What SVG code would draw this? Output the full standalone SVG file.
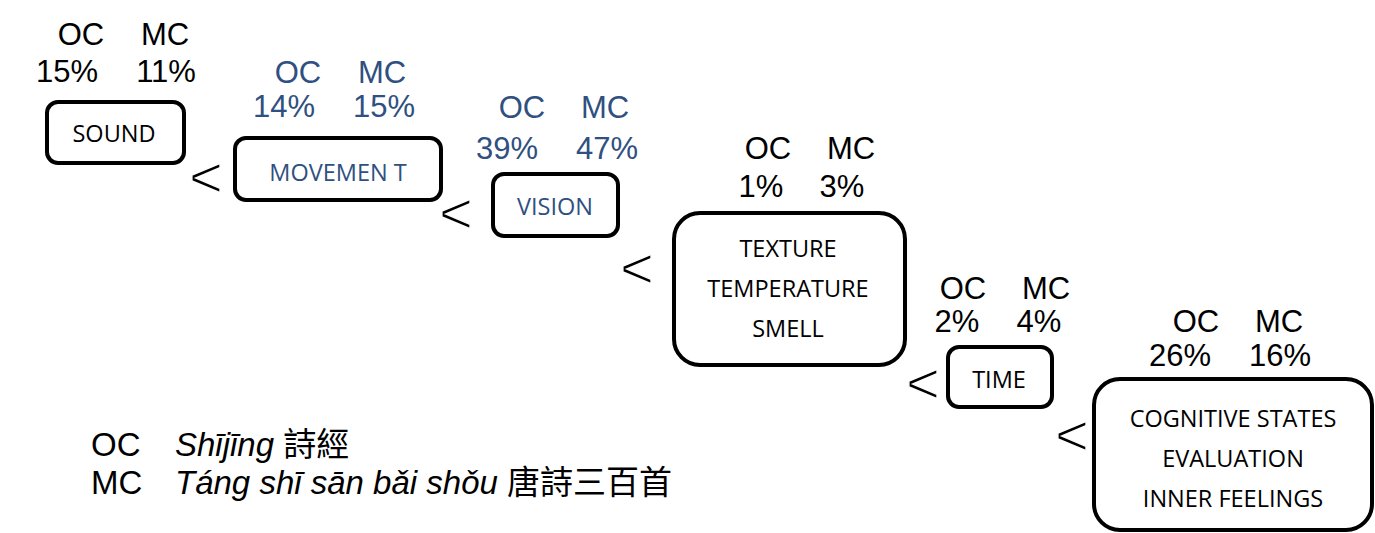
<svg xmlns="http://www.w3.org/2000/svg" width="1375" height="533" viewBox="0 0 1375 533">
<style>
.box{fill:#fff;stroke:#000;stroke-width:4}
.nt{font-family:"Open Sans","Noto Sans",sans-serif;font-size:23.5px;text-anchor:middle;fill:#000}
.lb{font-family:"Liberation Sans",Arial,sans-serif;font-size:31px;text-anchor:middle;fill:#000}
.nt.nb,.lb.nb{fill:#2F5080}
.lt{font-family:"Liberation Sans",Arial,sans-serif;font-size:58px;fill:#000;stroke:#fff;stroke-width:1.4}
.lg{font-family:"Liberation Sans",Arial,"Noto Sans CJK TC",sans-serif;font-size:33px;fill:#000}
</style>
<rect width="1375" height="533" fill="#fff"/>
<g id="connectors">
<text class="lt" x="189" y="197">&lt;</text>
<text class="lt" x="439" y="233">&lt;</text>
<text class="lt" x="620" y="288">&lt;</text>
<text class="lt" x="906" y="403">&lt;</text>
<text class="lt" x="1055" y="455">&lt;</text>
</g>
<g id="sound">
<text class="lb" x="81" y="45">OC</text><text class="lb" x="165" y="45">MC</text>
<text class="lb" x="67" y="82">15%</text><text class="lb" x="166" y="82">11%</text>
<rect class="box" x="47" y="102" width="137" height="61" rx="11"/>
<text class="nt" x="114" y="142">SOUND</text>
</g>
<g id="movement">
<text class="lb nb" x="298" y="83">OC</text><text class="lb nb" x="382" y="83">MC</text>
<text class="lb nb" x="284" y="117">14%</text><text class="lb nb" x="384" y="117">15%</text>
<rect class="box" x="235" y="138" width="206" height="62" rx="11"/>
<text class="nt nb" x="338" y="181">MOVEMEN T</text>
</g>
<g id="vision">
<text class="lb nb" x="522" y="118">OC</text><text class="lb nb" x="605" y="118">MC</text>
<text class="lb nb" x="507" y="159">39%</text><text class="lb nb" x="607" y="159">47%</text>
<rect class="box" x="493" y="174" width="125" height="62" rx="11"/>
<text class="nt nb" x="555" y="215">VISION</text>
</g>
<g id="texture">
<text class="lb" x="768" y="159">OC</text><text class="lb" x="851" y="159">MC</text>
<text class="lb" x="761" y="197">1%</text><text class="lb" x="842" y="197">3%</text>
<rect class="box" x="674" y="213" width="231" height="152" rx="26"/>
<text class="nt" x="788" y="257">TEXTURE</text>
<text class="nt" x="788" y="297">TEMPERATURE</text>
<text class="nt" x="788" y="337">SMELL</text>
</g>
<g id="time">
<text class="lb" x="963" y="299">OC</text><text class="lb" x="1046" y="299">MC</text>
<text class="lb" x="957" y="332">2%</text><text class="lb" x="1039" y="332">4%</text>
<rect class="box" x="948" y="347" width="104" height="60" rx="11"/>
<text class="nt" x="999" y="388">TIME</text>
</g>
<g id="cognitive">
<text class="lb" x="1196" y="332">OC</text><text class="lb" x="1279" y="332">MC</text>
<text class="lb" x="1180" y="366">26%</text><text class="lb" x="1280" y="366">16%</text>
<rect class="box" x="1094" y="379" width="278" height="151" rx="26"/>
<text class="nt" x="1233" y="427">COGNITIVE STATES</text>
<text class="nt" x="1233" y="467">EVALUATION</text>
<text class="nt" x="1233" y="507">INNER FEELINGS</text>
</g>
<g id="legend">
<text class="lg" x="91" y="456">OC</text>
<text class="lg" x="175" y="456"><tspan font-style="italic">Shījīng</tspan> 詩經</text>
<text class="lg" x="91" y="494">MC</text>
<text class="lg" x="175" y="494"><tspan font-style="italic">Táng shī sān bǎi shǒu</tspan> 唐詩三百首</text>
</g>
</svg>
